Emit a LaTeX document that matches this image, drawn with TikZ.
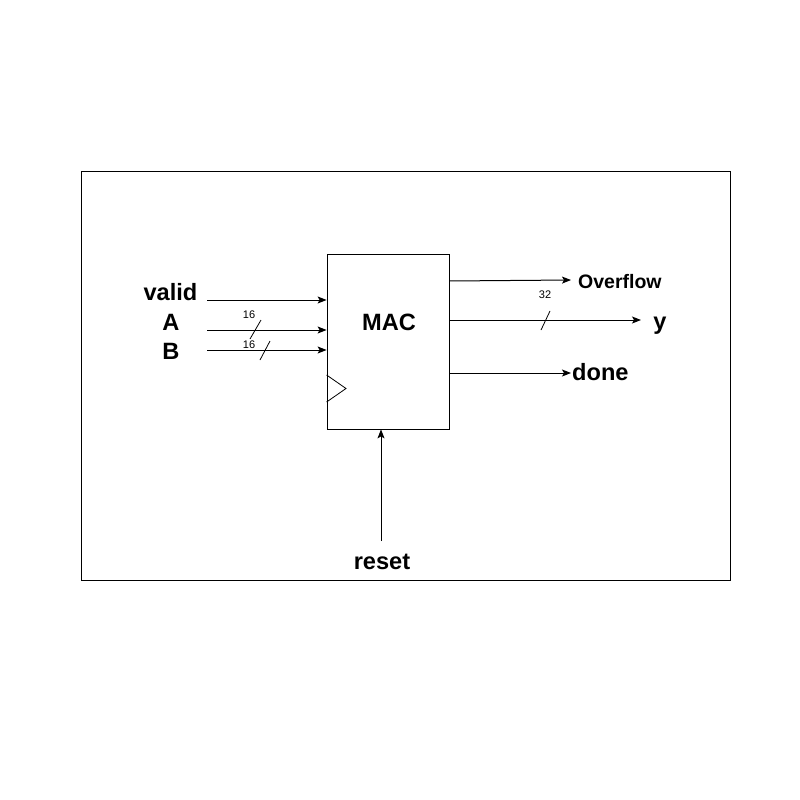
\documentclass[tikz,border=0pt]{standalone}
\usepackage{fontspec}
\setmainfont{Liberation Sans}
\usetikzlibrary{arrows.meta}
\begin{document}
\begin{tikzpicture}[x=1pt,y=-1pt,
  sig/.style={line width=1pt,-{Stealth[length=9pt,width=7pt,inset=2pt]}},
  big/.style={font=\fontsize{23.6}{26}\selectfont\bfseries,inner sep=0pt},
  mid/.style={font=\fontsize{19.5}{22}\selectfont\bfseries,inner sep=0pt},
  small/.style={font=\fontsize{11}{13}\selectfont,inner sep=0pt},
  slash/.style={line width=0.8pt}]
\useasboundingbox (0,0) rectangle (800,800);
\node[draw,line width=0.8pt,minimum width=649pt,minimum height=409pt,inner sep=0pt] (frame) at (405.5,375.5) {};
\node[draw,line width=0.8pt,minimum width=122pt,minimum height=175pt,inner sep=0pt] (mac) at (388,341.5) {};
\node[big] (mactxt) at (389,322) {MAC};
% clock triangle
\draw[line width=0.8pt] (mac.west |- 0,375) -- (346,388.5) -- (mac.west |- 0,402);
% inputs
\node[big] (valid) at (170.5,292) {valid};
\node[big] (A) at (171,322) {A};
\node[big] (B) at (171,351) {B};
\coordinate (vs) at (207,300);
\coordinate (as) at (207,330);
\coordinate (bs) at (207,350);
\draw[sig] (vs) -- (vs -| mac.west);
\draw[sig] (as) -- (as -| mac.west);
\draw[sig] (bs) -- (bs -| mac.west);
\coordinate (aslA) at (250,339); \coordinate (aslB) at (261,320);
\draw[slash] (aslA) -- (aslB);
\coordinate (bslA) at (260,360); \coordinate (bslB) at (270,341);
\draw[slash] (bslA) -- (bslB);
\node[small] (a16) at (249,315) {16};
\node[small] (b16) at (249,345) {16};
% outputs
\coordinate (os) at (449,281);
\coordinate (oe) at (571,280);
\coordinate (ys) at (449,320);
\coordinate (ye) at (641,320);
\coordinate (ds) at (449,373);
\coordinate (de) at (571,373);
\draw[sig] (os) -- (oe);
\draw[sig] (ys) -- (ye);
\draw[sig] (ds) -- (de);
\node[mid,anchor=west] (ovf) at (578,282) {Overflow};
\node[big] (y) at (660,326) {y};
\node[big,anchor=west] (done) at (572,372) {done};
\coordinate (yslA) at (541,330); \coordinate (yslB) at (550,311);
\draw[slash] (yslA) -- (yslB);
\node[small] (y32) at (545,295) {32};
% reset
\coordinate (rs) at (381,541);
\draw[sig] (rs) -- (rs |- mac.south);
\node[big] (reset) at (382,562) {reset};
\end{tikzpicture}
\end{document}
